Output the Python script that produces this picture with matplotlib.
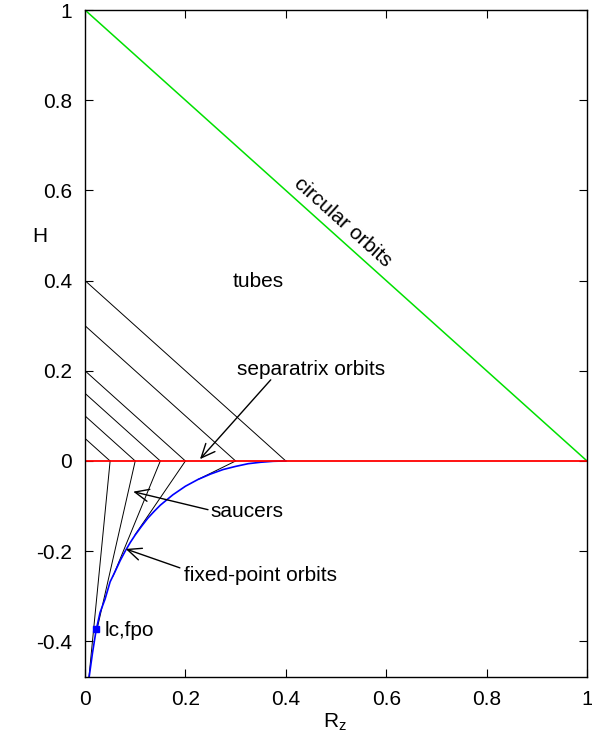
import matplotlib
matplotlib.use("Agg")
import matplotlib.pyplot as plt

plt.rcParams['font.family'] = ['Liberation Sans', 'DejaVu Sans']
plt.rcParams['mathtext.fontset'] = 'custom'
plt.rcParams['mathtext.rm'] = 'Liberation Sans'
plt.rcParams['mathtext.it'] = 'Liberation Sans'
plt.rcParams['axes.unicode_minus'] = False

# tube orbits: H at Rz=0 for each line
tube_h = [0.05, 0.1, 0.15, 0.2, 0.3, 0.4]
# saucer lines run from (h, 0) down to where they touch the fixed-point curve
saucer_h = [0.05, 0.1, 0.15, 0.2, 0.3]
saucer_end_rz = [0.006, 0.025, 0.056, 0.10, 0.225]
saucer_end_h = [-0.50, -0.368, -0.255, -0.163, -0.041]

# fixed-point orbit curve
fpo_rz = [0.0, 0.002, 0.004, 0.0086, 0.015, 0.022, 0.03, 0.04, 0.05, 0.06,
          0.07, 0.08, 0.09, 0.10, 0.1125, 0.125, 0.1375, 0.15, 0.175, 0.2,
          0.225, 0.25, 0.275, 0.3, 0.325, 0.35, 0.375, 0.4]
fpo_h = [-0.654, -0.567, -0.528, -0.476, -0.425, -0.376, -0.336, -0.306,
         -0.268, -0.245, -0.221, -0.200, -0.181, -0.164, -0.145, -0.127,
         -0.112, -0.098, -0.075, -0.056, -0.041, -0.029, -0.019, -0.012,
         -0.006, -0.0028, -0.0007, 0.0]

lc_rz, lc_h = 0.022, -0.373

fig = plt.figure(figsize=(5.92, 7.42), dpi=100)
ax = fig.add_axes([0.1436, 0.0876, 0.848, 0.8989])

for h in tube_h:
    ax.plot([0, h], [h, 0], color='black', lw=0.7)
for h, r, e in zip(saucer_h, saucer_end_rz, saucer_end_h):
    ax.plot([h, r], [0, e], color='black', lw=0.7)

ax.plot([0, 1], [1, 0], color='#00e000', lw=1.1)
ax.plot(fpo_rz, fpo_h, color='#0000ff', lw=1.2)
ax.plot([0, 1], [0, 0], color='#ff0000', lw=1.3)
ax.plot([lc_rz], [lc_h], marker='s', color='#0000ff', ms=4.5)

fs = 15
ax.text(0.345, 0.397, 'tubes', ha='center', va='center', fontsize=fs)
ax.text(0.514, 0.53, 'circular orbits', ha='center', va='center',
        rotation=-41.9, rotation_mode='anchor', fontsize=fs)
ax.text(0.039, -0.375, 'lc,fpo', ha='left', va='center', fontsize=fs)

arrow = dict(arrowstyle='->,head_length=0.5,head_width=0.22', color='black',
             lw=1.0, mutation_scale=20, shrinkA=0, shrinkB=0)
ax.annotate('', xy=(0.229, 0.004), xytext=(0.37, 0.18), arrowprops=arrow)
ax.text(0.45, 0.202, 'separatrix orbits', ha='center', va='center', fontsize=fs)
ax.annotate('', xy=(0.096, -0.068), xytext=(0.245, -0.108), arrowprops=arrow)
ax.text(0.249, -0.113, 'saucers', ha='left', va='center', fontsize=fs)
ax.annotate('', xy=(0.081, -0.195), xytext=(0.189, -0.237), arrowprops=arrow)
ax.text(0.197, -0.253, 'fixed-point orbits', ha='left', va='center', fontsize=fs)

ax.set_xlim(0, 1)
ax.set_ylim(-0.479, 1)
ax.set_xticks([0, 0.2, 0.4, 0.6, 0.8, 1])
ax.set_xticklabels(['0', '0.2', '0.4', '0.6', '0.8', '1'])
ax.set_yticks([-0.4, -0.2, 0, 0.2, 0.4, 0.6, 0.8, 1])
ax.set_yticklabels(['-0.4', '-0.2', '0', '0.2', '0.4', '0.6', '0.8', '1'])
ax.tick_params(direction='in', length=5.5, width=0.8, top=True, right=True,
               labelsize=fs)
ax.tick_params(axis='x', pad=9)
ax.tick_params(axis='y', pad=9.5)
for s in ax.spines.values():
    s.set_linewidth(1.0)

ax.set_xlabel(r'R$_\mathrm{z}$', fontsize=fs, va='top')
ax.xaxis.set_label_coords(0.498, -0.052)
ax.set_ylabel('H', fontsize=fs, rotation=0, ha='center', va='center')
ax.yaxis.set_label_coords(-0.0896, 0.661)

fig.savefig('out.png', dpi=100)
